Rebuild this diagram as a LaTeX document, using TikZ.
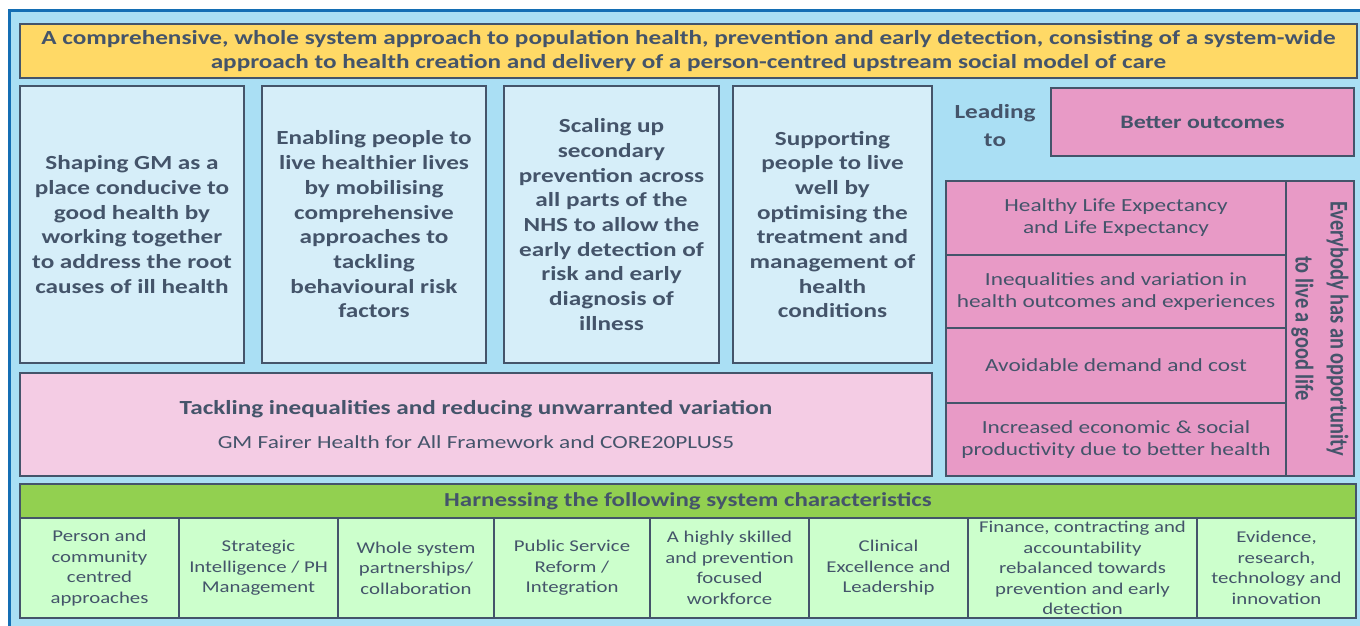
\documentclass[tikz,border=0pt]{standalone}
\usepackage{fontspec}
\setmainfont{Carlito}[FakeStretch=1.26]
\newfontfamily\tallfont{Carlito}[FakeStretch=0.8]
\usepackage{tikz}
\usetikzlibrary{positioning}
\definecolor{ink}{RGB}{68,84,106}
\definecolor{frameline}{RGB}{20,110,180}
\definecolor{framefill}{RGB}{170,223,244}
\definecolor{bannerfill}{RGB}{255,217,102}
\definecolor{aimfill}{RGB}{214,238,249}
\definecolor{equityfill}{RGB}{244,204,228}
\definecolor{outcomefill}{RGB}{232,154,198}
\definecolor{harnessfill}{RGB}{146,208,80}
\definecolor{traitfill}{RGB}{204,255,204}

\begin{document}
\begin{tikzpicture}[x=1pt, y=-1pt]
\tikzstyle{panel}=[draw=ink, line width=1.6pt, inner sep=0pt, outer sep=0pt, align=center, text=ink]
\tikzstyle{aim}=[panel, fill=aimfill, minimum height=277pt, font=\bfseries\fontsize{20}{24.7}\selectfont]
\tikzstyle{outrow}=[panel, fill=outcomefill, minimum width=340pt, font=\fontsize{18.5}{22}\selectfont]
\tikzstyle{trait}=[panel, fill=traitfill, minimum height=100pt, font=\fontsize{16.5}{20.5}\selectfont]

\useasboundingbox (0,0) rectangle (1360,626);
\fill[white] (0,0) rectangle (1360,626);
\draw[line width=3pt, draw=frameline, fill=framefill] (9,11) rectangle (1380,650);

\node[panel, fill=bannerfill, anchor=north west, minimum width=1337pt, minimum height=54pt,
  font=\bfseries\fontsize{20}{24}\selectfont] (vision) at (20,24)
  {A comprehensive, whole system approach to population health, prevention and early detection, consisting of a system-wide\\
   approach to health creation and delivery of a person-centred upstream social model of care};

\node[aim, anchor=north west, minimum width=224pt] (place) at (20,86)
  {Shaping GM as a\\place conducive to\\good health by\\working together\\to address the root\\causes of ill health};
\node[aim, right=18pt of place, minimum width=224pt] (lifestyle)
  {Enabling people to\\live healthier lives\\by mobilising\\comprehensive\\approaches to\\tackling\\behavioural risk\\factors};
\node[aim, right=18pt of lifestyle, minimum width=215pt] (secondary)
  {Scaling up\\secondary\\prevention across\\all parts of the\\NHS to allow the\\early detection of\\risk and early\\diagnosis of\\illness};
\node[aim, right=14pt of secondary, minimum width=199pt] (treatment)
  {Supporting\\people to live\\well by\\optimising the\\treatment and\\management of\\health\\conditions};

\node[panel, fill=equityfill, anchor=north west, minimum width=912pt, minimum height=103pt] (equity) at (20,373)
  {{\bfseries\fontsize{20}{24}\selectfont Tackling inequalities and reducing unwarranted variation}\\[16pt]
   {\fontsize{18.5}{22}\selectfont GM Fairer Health for All Framework and CORE20PLUS5}};

\node[text=ink, align=center, font=\bfseries\fontsize{20}{28}\selectfont] (leading) at (995,126) {Leading\\to};
\node[panel, fill=outcomefill, anchor=north west, minimum width=303pt, minimum height=68pt,
  font=\bfseries\fontsize{19}{23}\selectfont] (better) at (1051,88) {Better outcomes};

\node[outrow, anchor=north west, minimum height=74pt] (hle) at (946,181)
  {Healthy Life Expectancy\\and Life Expectancy};
\node[outrow, below=0pt of hle, minimum height=73pt] (gaps)
  {Inequalities and variation in\\health outcomes and experiences};
\node[outrow, below=0pt of gaps, minimum height=75pt] (demand)
  {Avoidable demand and cost};
\node[outrow, below=0pt of demand, minimum height=73pt] (economy)
  {Increased economic \& social\\productivity due to better health};
\node[panel, fill=outcomefill, rotate=-90, minimum width=295pt, minimum height=68pt,
  font=\tallfont\bfseries\fontsize{25.5}{35}\selectfont] (goodlife) at (1320,328.5)
  {Everybody has an opportunity\\to live a good life};

\node[panel, fill=harnessfill, anchor=north west, minimum width=1336pt, minimum height=34pt,
  font=\bfseries\fontsize{19.8}{23}\selectfont] (harness) at (20,484)
  {Harnessing the following system characteristics};

\node[trait, anchor=north west, minimum width=159pt] (person) at (20,518)
  {Person and\\community\\centred\\approaches};
\node[trait, right=0pt of person, minimum width=159pt] (intel)
  {Strategic\\Intelligence / PH\\Management};
\node[trait, right=0pt of intel, minimum width=156pt] (partners)
  {Whole system\\partnerships/\\collaboration};
\node[trait, right=0pt of partners, minimum width=156pt] (reform)
  {Public Service\\Reform /\\Integration};
\node[trait, right=0pt of reform, minimum width=159pt] (workforce)
  {A highly skilled\\and prevention\\focused\\workforce};
\node[trait, right=0pt of workforce, minimum width=159pt] (clinical)
  {Clinical\\Excellence and\\Leadership};
\node[trait, right=0pt of clinical, minimum width=229pt] (finance)
  {Finance, contracting and\\accountability\\rebalanced towards\\prevention and early\\detection};
\node[trait, right=0pt of finance, minimum width=159pt] (evidence)
  {Evidence,\\research,\\technology and\\innovation};
\end{tikzpicture}
\end{document}
